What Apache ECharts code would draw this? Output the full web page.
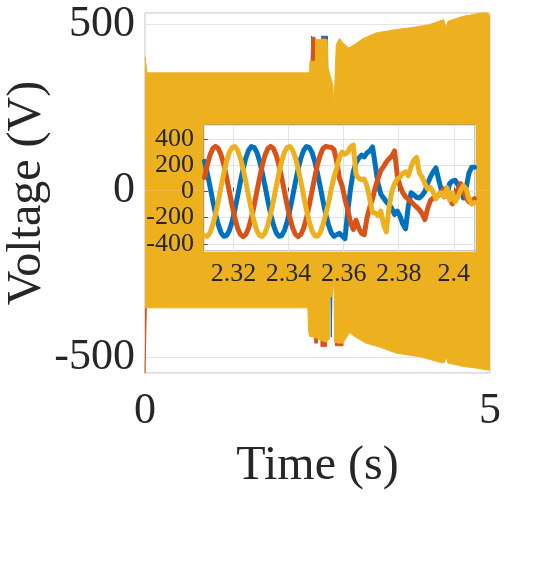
<!DOCTYPE html>
<html>
<head>
<meta charset="utf-8">
<title>Voltage</title>
<script src="https://cdn.jsdelivr.net/npm/echarts@6/dist/echarts.min.js"></script>
<style>
html, body { margin: 0; padding: 0; background: #fff; }
#chart { width: 538px; height: 583px; }
</style>
</head>
<body>
<div id="chart"></div>
<script>
/* main plot: the 50 Hz phases are too dense to see, so keep the envelope (V) */
var yellowTopTime = [0, 0.025, 0.03, 2.385, 2.39, 2.47, 2.475, 2.64, 2.652, 2.70, 2.724, 2.738, 2.755, 2.772, 2.82, 2.87, 2.95, 3.00, 3.16, 3.35, 3.64, 3.90, 4.12, 4.33, 4.35, 4.366, 4.39, 4.40, 4.61, 4.80, 4.92, 4.97, 5.00];
var yellowTop = [403, 403, 355, 355, 390, 390, 455, 455, 370, 335, 315, 249, 250, 440, 458, 445, 430, 435, 458, 475, 485, 492, 500, 515, 512, 490, 510, 515, 525, 532, 538, 535, 520];
var yellowBottomTime = [0, 2.36, 2.37, 2.385, 2.46, 2.50, 2.55, 2.63, 2.675, 2.68, 2.712, 2.716, 2.74, 2.745, 2.80, 2.87, 2.965, 3.05, 3.20, 3.40, 3.64, 4.00, 4.316, 4.345, 4.366, 4.39, 4.41, 4.606, 4.80, 4.945, 5.00];
var yellowBottom = [-352, -352, -420, -438, -440, -445, -450, -455, -445, -318, -318, -300, -282, -455, -458, -458, -426, -440, -458, -470, -488, -500, -518, -515, -498, -518, -523, -528, -533, -538, -540];

var orangeTopTime = [2.40, 2.41, 2.415, 2.465, 2.47, 2.555, 2.56, 2.62, 2.625, 2.70];
var orangeTop = [240, 240, 462, 462, 240, 240, 460, 460, 240, 240];
var orangeBottomTime = [0, 0.025, 0.03, 2.455, 2.46, 2.50, 2.505, 2.545, 2.55, 2.63, 2.635, 2.755, 2.76, 2.87, 2.875, 5];
var orangeBottom = [-550, -550, -240, -240, -458, -458, -240, -240, -468, -468, -240, -240, -466, -466, -240, -240];

var blueTopTime = [2.40, 2.41, 2.415, 2.44, 2.445, 2.555, 2.56, 2.645, 2.65, 2.70];
var blueTop = [240, 240, 466, 466, 240, 240, 465, 465, 240, 240];
var blueBottomTime = [2.69, 2.699, 2.70, 2.712, 2.713, 2.72];
var blueBottom = [-240, -240, -440, -440, -240, -240];

/* inset: samples every 1 ms from 2.3095 s */
var insetStart = 2.3095;
var insetStep = 0.001;
var phaseBlue = [231, 140, 36, -72, -173, -256, -315, -343, -337, -299, -231, -140, -36, 72, 173, 256, 315, 343, 337, 299,
	231, 140, 36, -72, -173, -256, -315, -343, -337, -299, -231, -140, -36, 72, 173, 256, 315, 343, 337, 299,
	231, 140, 36, -72, -173, -256, -315, -343, -330, -320, -340, -360, -150, 20, 150, 220, 255, 278, 265, 295,
	310, 340, 200, 60, -20, -50, -80, -100, -130, -175, -150, -190, -250, -285, -110, -10, -25, -45, -50, -30,
	0, 60, 110, 150, 180, 90, 10, -40, -25, 60, 80, 85, 50, 15, -50, 30, 140, 185, 185];
var phaseOrange = [107, 203, 279, 328, 345, 328, 279, 203, 107, 0, -107, -203, -279, -328, -345, -328, -279, -203, -107, 0,
	107, 203, 279, 328, 345, 328, 279, 203, 107, 0, -107, -203, -279, -328, -345, -328, -279, -203, -107, 0,
	107, 203, 279, 328, 345, 340, 338, 320, 230, 100, 40, -60, -140, -235, -290, -220, -280, -320, -330, -200,
	-120, -55, 30, 100, 160, 190, 225, 250, 270, 310, 120, 40, -10, -40, -60, -80, -100, -120, -140, -170,
	-215, -130, -70, -50, -35, -30, 0, 20, -10, -55, -95, -40, 20, 60, 10, -50, -80, -70, -55];
var phaseYellow = [-337, -343, -315, -256, -173, -72, 36, 140, 231, 299, 337, 343, 315, 256, 173, 72, -36, -140, -231, -299,
	-337, -343, -315, -256, -173, -72, 36, 140, 231, 299, 337, 343, 315, 256, 173, 72, -36, -140, -231, -299,
	-337, -343, -315, -256, -173, -90, 20, 110, 180, 260, 300, 285, 300, 340, 355, 130, 100, 90, 95, 40,
	-60, -160, -165, -185, -150, -250, -310, -120, 0, 60, 95, 110, 140, 150, 120, 190, 240, 260, 140, 110,
	60, 20, 30, -5, -55, -20, -10, -40, 30, -65, -10, -80, -40, 10, 45, 20, -60, -95, -85];

var BLUE = '#0072BD', ORANGE = '#D95319', YELLOW = '#EDB120';
var FONT = '"Liberation Serif", "Times New Roman", serif';
var TEXT = '#262626';

function pairs(xs, ys){
	var out = [];
	for (var i = 0; i < ys.length; i++) out.push([xs[i], ys[i]]);
	return out;
}

/* filled from the zero line out to the envelope; z keeps yellow on top */
function envelope(color, xs, ys, z){
	return {
		type: 'line',
		xAxisIndex: 0,
		yAxisIndex: 0,
		data: pairs(xs, ys),
		showSymbol: false,
		silent: true,
		z: z,
		lineStyle: { color: color, width: 1 },
		areaStyle: { color: color, opacity: 1 }
	};
}

function phase(color, ys){
	var xs = [];
	for (var i = 0; i < ys.length; i++) xs.push(+(insetStart + insetStep * i).toFixed(4));
	return {
		type: 'line',
		xAxisIndex: 1,
		yAxisIndex: 1,
		data: pairs(xs, ys),
		showSymbol: false,
		silent: true,
		z: 7,
		lineStyle: { color: color, width: 5, cap: 'round', join: 'round' }
	};
}

var chart = echarts.init(document.getElementById('chart'));
chart.setOption({
	animation: false,
	backgroundColor: '#fff',
	grid: [
		{ left: 145, right: 48, top: 13, bottom: 210, outerBoundsMode: 'none', show: true, borderColor: '#bdbdbd', borderWidth: 1, backgroundColor: 'transparent' },
		{ left: 204, right: 63, top: 125, bottom: 332, outerBoundsMode: 'none', show: true, borderColor: '#8c8c8c', borderWidth: 1, backgroundColor: '#fff', z: 5 }
	],
	xAxis: [
		{
			type: 'value', gridIndex: 0, min: 0, max: 5, interval: 5,
			name: 'Time (s)', nameLocation: 'middle', nameGap: 69, nameMoveOverlap: false,
			nameTextStyle: { fontFamily: FONT, fontSize: 48, color: TEXT },
			axisLine: { show: false }, axisTick: { show: false },
			axisLabel: { fontFamily: FONT, fontSize: 44, color: TEXT, margin: 16 },
			splitLine: { show: true, lineStyle: { color: '#e6e6e6' } }
		},
		{
			type: 'value', gridIndex: 1, min: 2.3093, max: 2.4077, splitNumber: 5, z: 6,
			axisLine: { show: false },
			axisTick: { show: true, inside: true, length: 4, lineStyle: { color: '#555' } },
			axisLabel: { fontFamily: FONT, fontSize: 26, color: TEXT, margin: 10, showMinLabel: false, showMaxLabel: false },
			splitLine: { show: true, lineStyle: { color: '#e3e3e3' } }
		}
	],
	yAxis: [
		{
			type: 'value', gridIndex: 0, min: -548, max: 535, splitNumber: 2,
			name: 'Voltage (V)', nameLocation: 'middle', nameGap: 94, nameMoveOverlap: false,
			nameTextStyle: { fontFamily: FONT, fontSize: 48, color: TEXT },
			axisLine: { show: false }, axisTick: { show: false },
			axisLabel: { fontFamily: FONT, fontSize: 44, color: TEXT, margin: 10, showMinLabel: false, showMaxLabel: false },
			splitLine: { show: true, lineStyle: { color: '#e6e6e6' } }
		},
		{
			type: 'value', gridIndex: 1, min: -455, max: 508, splitNumber: 5, z: 6,
			axisLine: { show: false },
			axisTick: { show: true, inside: true, length: 4, lineStyle: { color: '#555' } },
			axisLabel: { fontFamily: FONT, fontSize: 26, color: TEXT, margin: 10, showMinLabel: false, showMaxLabel: false },
			splitLine: { show: true, lineStyle: { color: '#e3e3e3' } }
		}
	],
	series: [
		envelope(BLUE, blueTopTime, blueTop, 2),
		envelope(BLUE, blueBottomTime, blueBottom, 2),
		envelope(ORANGE, orangeTopTime, orangeTop, 3),
		envelope(ORANGE, orangeBottomTime, orangeBottom, 3),
		envelope(YELLOW, yellowTopTime, yellowTop, 4),
		envelope(YELLOW, yellowBottomTime, yellowBottom, 4),
		phase(BLUE, phaseBlue),
		phase(ORANGE, phaseOrange),
		phase(YELLOW, phaseYellow)
	]
});
</script>
</body>
</html>
